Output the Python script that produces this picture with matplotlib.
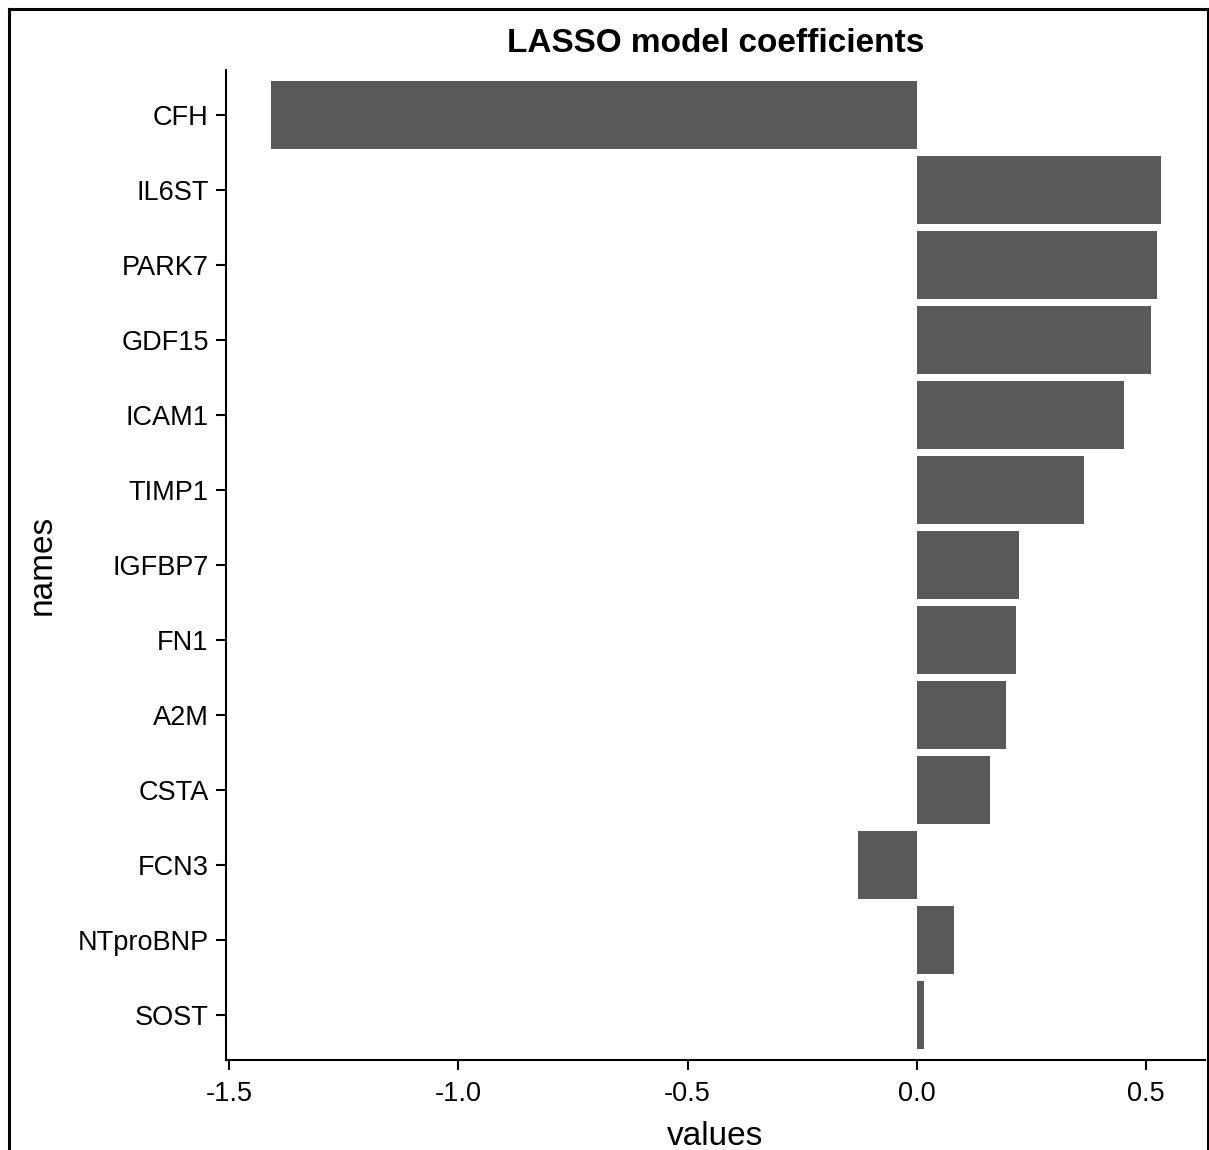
import matplotlib.pyplot as plt
import numpy as np
from matplotlib.lines import Line2D

# coefficients, top to bottom
names = ["CFH", "IL6ST", "PARK7", "GDF15", "ICAM1", "TIMP1", "IGFBP7",
         "FN1", "A2M", "CSTA", "FCN3", "NTproBNP", "SOST"]
values = [-1.410, 0.532, 0.525, 0.512, 0.453, 0.365, 0.224,
          0.217, 0.195, 0.161, -0.129, 0.082, 0.017]
xticks = [-1.5, -1.0, -0.5, 0.0, 0.5]

plt.rcParams['font.family'] = ['Liberation Sans', 'DejaVu Sans']

fig = plt.figure(figsize=(12.09, 11.5), dpi=100)
ax = fig.add_axes([226 / 1209, 1 - 1060 / 1150, (1205 - 226) / 1209, (1060 - 70) / 1150])

pos = np.arange(len(names))
ax.barh(pos, values, height=0.9, color='#595959')

# ggplot-like expansion
lo, hi = min(values), max(values)
span = hi - lo
ax.set_xlim(lo - 0.05 * span, hi + 0.05 * span)
ax.set_ylim(len(names) - 0.4, -0.6)

ax.set_yticks(pos)
ax.set_yticklabels(names)
ax.set_xticks(xticks)
ax.set_xticklabels(["{:.1f}".format(v) for v in xticks])

for s in ['top', 'right']:
    ax.spines[s].set_visible(False)
for s in ['left', 'bottom']:
    ax.spines[s].set_linewidth(1.5)
    ax.spines[s].set_color('black')

ax.tick_params(axis='both', length=7, width=1.5, labelsize=19.5, colors='black')
ax.tick_params(axis='y', pad=5.5)
ax.tick_params(axis='x', pad=8)

ax.set_xlabel("values", fontsize=24, labelpad=10)
ax.set_ylabel("names", fontsize=24, labelpad=14)
ax.set_title("LASSO model coefficients", fontsize=24, fontweight='bold', pad=13)

# screenshot frame
W, H = 1209, 1150
frame = dict(color='black', linewidth=2.2, transform=fig.transFigure)
fig.add_artist(Line2D([8.5 / W, 8.5 / W], [0, 1 - 9 / H], **frame))
fig.add_artist(Line2D([8.5 / W, 1207.5 / W], [1 - 9 / H, 1 - 9 / H], **frame))
fig.add_artist(Line2D([1207.5 / W, 1207.5 / W], [0, 1 - 9 / H], **frame))

fig.savefig("out.png", dpi=100)
